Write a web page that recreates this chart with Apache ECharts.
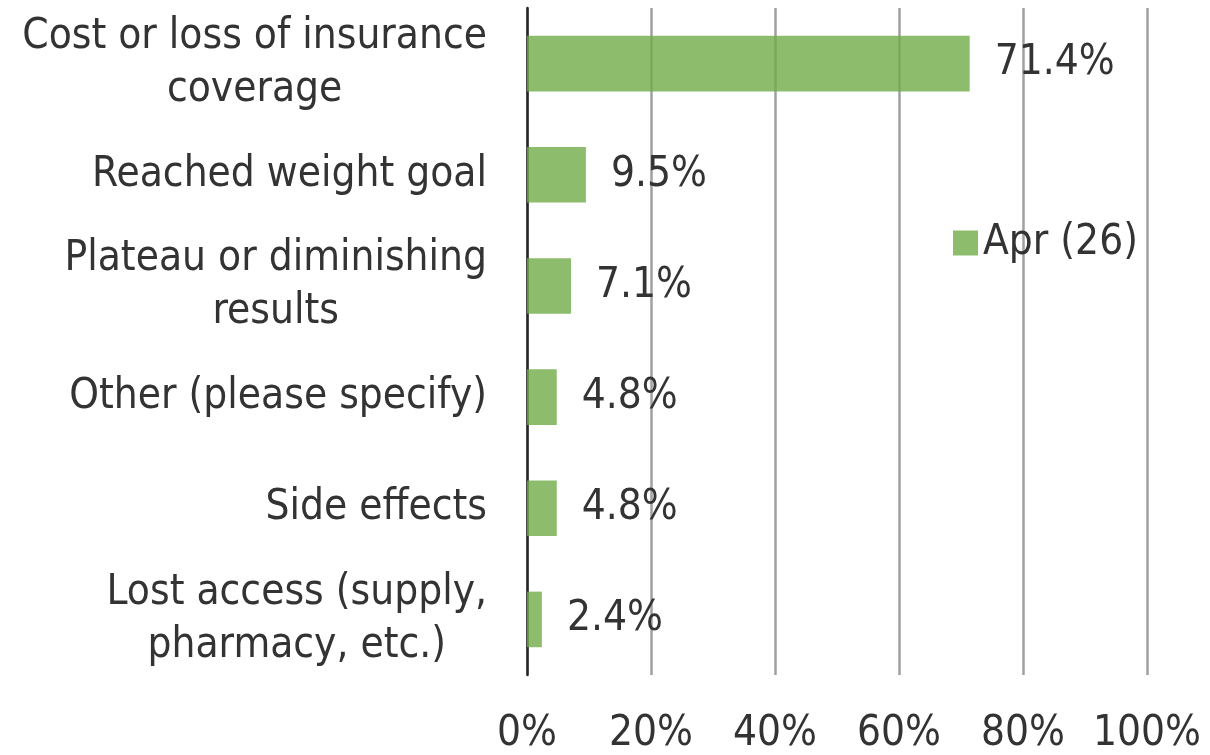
<!DOCTYPE html>
<html>
<head>
<meta charset="utf-8">
<script src="https://cdn.jsdelivr.net/npm/echarts@6/dist/echarts.min.js"></script>
<style>html,body{margin:0;padding:0;background:#fff}#c{width:1210px;height:755px}</style>
</head>
<body>
<div id="c"></div>
<script>
const categories = [
  'Cost or loss of insurance\ncoverage',
  'Reached weight goal',
  'Plateau or diminishing\nresults',
  'Other (please specify)',
  'Side effects',
  'Lost access (supply,\npharmacy, etc.)'
];
const seriesName = 'Apr (26)';
const values = [71.4, 9.5, 7.1, 4.8, 4.8, 2.4];
const xTicks = [0, 20, 40, 60, 80, 100];

const FONT = '"DejaVu Sans Condensed", "DejaVu Sans"';
const FS = 42;
const chart = echarts.init(document.getElementById('c'), null, {renderer: 'canvas'});
chart.setOption({
  animation: false,
  textStyle: {fontFamily: FONT},
  grid: {left: 527, right: 63, top: 8, bottom: 80, containLabel: false},
  legend: {
    left: 948, top: 217,
    itemWidth: 25, itemHeight: 25, itemGap: 10,
    icon: 'rect',
    textStyle: {fontFamily: FONT, fontSize: FS, color: '#333'},
    data: [seriesName]
  },
  xAxis: {
    type: 'value', min: xTicks[0], max: xTicks[xTicks.length - 1], interval: 20,
    axisLine: {show: false}, axisTick: {show: false},
    splitLine: {show: true, lineStyle: {color: '#a0a0a0', width: 2.5}},
    axisLabel: {formatter: v => v + '%', fontFamily: FONT, fontSize: FS, color: '#333', margin: 38}
  },
  yAxis: {
    type: 'category', inverse: true, data: categories,
    axisLine: {show: true, lineStyle: {color: '#262626', width: 2.5}},
    axisTick: {show: false},
    axisLabel: {
      margin: 40, fontFamily: FONT, fontSize: FS, color: '#333', lineHeight: 53,
      formatter: v => v.split('\n').map(s => '{c|' + s + '}').join('\n'),
      rich: {c: {align: 'center', fontFamily: FONT, fontSize: FS, color: '#333', lineHeight: 53}}
    }
  },
  series: [{
    name: seriesName, type: 'bar', data: values, barWidth: '50%',
    itemStyle: {color: 'rgba(112,173,71,0.8)'},
    label: {show: true, position: 'right', distance: 25, formatter: p => p.value.toFixed(1) + '%',
      fontFamily: FONT, fontSize: FS, color: '#333'}
  }]
});
</script>
</body>
</html>
